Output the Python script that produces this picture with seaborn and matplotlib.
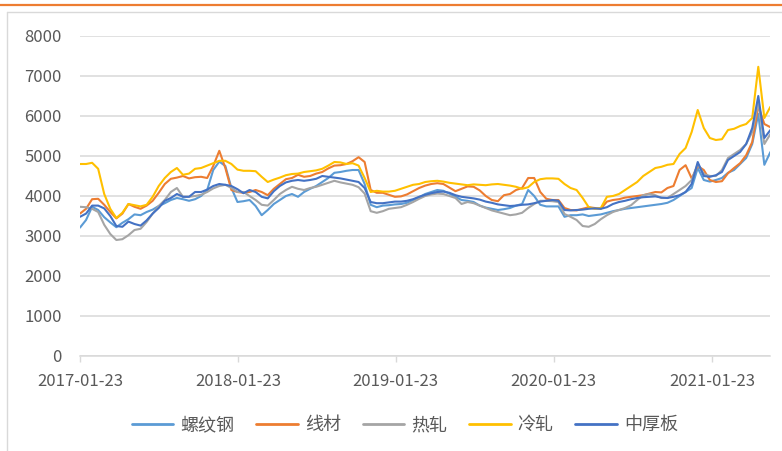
import numpy as np
import pandas as pd
import matplotlib
matplotlib.use('Agg')
import matplotlib.pyplot as plt
import seaborn as sns
from matplotlib.lines import Line2D

# ---------------- data ----------------
START = '2017-01-23'
N_POINTS = 115
STEP = '14D'

series_names = ['螺纹钢', '线材', '热轧', '冷轧', '中厚板']
series_colors = ['#5B9BD5', '#ED7D31', '#A5A5A5', '#FFC000', '#4472C4']

rebar = [3210, 3400, 3730, 3650, 3470, 3340, 3220, 3330, 3420, 3540,
         3520, 3600, 3660, 3750, 3820, 3900, 3950, 3920, 3880, 3920,
         4000, 4150, 4650, 4860, 4750, 4200, 3850, 3870, 3900, 3750,
         3520, 3650, 3800, 3900, 4000, 4050, 3980, 4100, 4180, 4250,
         4350, 4450, 4580, 4600, 4630, 4650, 4650, 4300, 3780, 3720,
         3760, 3770, 3790, 3800, 3830, 3900, 3970, 4050, 4100, 4150,
         4130, 4060, 3980, 3900, 3880, 3850, 3760, 3710, 3680, 3650,
         3670, 3700, 3760, 3800, 4150, 4000, 3780, 3740, 3740, 3740,
         3480, 3520, 3520, 3540, 3500, 3520, 3540, 3580, 3620, 3650,
         3680, 3700, 3720, 3740, 3760, 3780, 3800, 3830, 3900, 4000,
         4100, 4200, 4700, 4400, 4360, 4400, 4450, 4580, 4650, 4800,
         4950, 5300, 6050, 4780, 5100]

wire = [3560, 3680, 3920, 3930, 3780, 3600, 3440, 3560, 3800, 3730,
        3680, 3760, 3880, 4080, 4300, 4430, 4460, 4500, 4440, 4470,
        4480, 4450, 4750, 5130, 4700, 4150, 4100, 4080, 4100, 4150,
        4100, 4020, 4180, 4300, 4420, 4450, 4530, 4480, 4500, 4560,
        4600, 4690, 4760, 4770, 4800, 4870, 4970, 4850, 4150, 4080,
        4080, 4030, 3980, 3990, 4040, 4120, 4200, 4260, 4300, 4320,
        4300, 4210, 4120, 4180, 4240, 4230, 4140, 4000, 3900, 3870,
        4020, 4050, 4150, 4200, 4450, 4450, 4100, 3930, 3900, 3900,
        3700, 3650, 3640, 3680, 3720, 3700, 3680, 3860, 3900, 3920,
        3960, 3980, 4000, 4020, 4060, 4100, 4090, 4200, 4250, 4650,
        4770, 4440, 4750, 4650, 4400, 4350, 4370, 4570, 4700, 4820,
        5020, 5350, 6250, 5800, 5720]

hot_rolled = [3730, 3720, 3680, 3600, 3280, 3050, 2900, 2920, 3020, 3150,
              3180, 3350, 3560, 3750, 3900, 4100, 4200, 3980, 3980, 4000,
              4030, 4100, 4190, 4250, 4280, 4200, 4100, 4100, 4000, 3900,
              3780, 3760, 3900, 4050, 4150, 4230, 4180, 4150, 4200, 4230,
              4280, 4330, 4380, 4340, 4310, 4280, 4220, 4060, 3620, 3580,
              3620, 3680, 3700, 3720, 3780, 3850, 3930, 4000, 4040, 4060,
              4050, 4000, 3950, 3800, 3850, 3820, 3760, 3700, 3640, 3600,
              3560, 3520, 3540, 3580, 3700, 3800, 3880, 3880, 3870, 3850,
              3550, 3480, 3400, 3250, 3230, 3300, 3420, 3520, 3600, 3650,
              3700, 3770, 3900, 4020, 4050, 4020, 3950, 3950, 4050, 4150,
              4250, 4400, 4800, 4550, 4500, 4500, 4650, 4950, 5050, 5150,
              5300, 5600, 6350, 5300, 5550]

cold_rolled = [4800, 4800, 4830, 4680, 4050, 3680, 3450, 3580, 3800, 3770,
               3740, 3780, 3980, 4250, 4450, 4600, 4700, 4530, 4560, 4680,
               4700, 4760, 4820, 4880, 4880, 4800, 4660, 4630, 4630, 4620,
               4480, 4350, 4410, 4460, 4520, 4550, 4560, 4600, 4620, 4640,
               4680, 4760, 4850, 4840, 4800, 4820, 4760, 4450, 4100, 4130,
               4110, 4110, 4130, 4180, 4230, 4280, 4300, 4350, 4370, 4380,
               4360, 4330, 4310, 4290, 4270, 4290, 4280, 4270, 4290, 4300,
               4280, 4260, 4230, 4180, 4220, 4350, 4420, 4440, 4440, 4430,
               4300, 4200, 4150, 3950, 3720, 3680, 3700, 3980, 4000, 4050,
               4150, 4250, 4350, 4500, 4600, 4700, 4730, 4780, 4800, 5050,
               5200, 5600, 6150, 5700, 5450, 5400, 5420, 5650, 5680, 5750,
               5800, 5950, 7230, 5950, 6230]

plate = [3480, 3560, 3760, 3760, 3690, 3500, 3250, 3230, 3360, 3300,
         3260, 3390, 3560, 3700, 3880, 3950, 4050, 3980, 3980, 4100,
         4100, 4160, 4250, 4300, 4280, 4250, 4170, 4070, 4150, 4100,
         3980, 3940, 4120, 4250, 4340, 4380, 4400, 4380, 4400, 4430,
         4500, 4480, 4460, 4440, 4410, 4380, 4350, 4200, 3850, 3820,
         3820, 3840, 3860, 3860, 3880, 3920, 3980, 4030, 4070, 4100,
         4110, 4080, 4020, 3980, 3960, 3940, 3910, 3860, 3830, 3790,
         3770, 3750, 3760, 3780, 3790, 3820, 3860, 3880, 3900, 3880,
         3650, 3640, 3650, 3660, 3680, 3690, 3680, 3720, 3800, 3850,
         3880, 3920, 3950, 3970, 3980, 3990, 3960, 3950, 3980, 4020,
         4100, 4300, 4850, 4500, 4480, 4520, 4600, 4900, 5000, 5100,
         5300, 5700, 6500, 5450, 5650]

x_tick_labels = ['2017-01-23', '2018-01-23', '2019-01-23', '2020-01-23', '2021-01-23']
y_ticks = [0, 1000, 2000, 3000, 4000, 5000, 6000, 7000, 8000]

# ---------------- build table ----------------
dates = pd.date_range(START, periods=N_POINTS, freq=STEP)
all_vals = [rebar, wire, hot_rolled, cold_rolled, plate]
df = pd.concat(
    [pd.DataFrame({'date': dates, 'value': v, 'series': n})
     for n, v in zip(series_names, all_vals)],
    ignore_index=True)

# ---------------- style ----------------
sns.set_theme(style='white')
plt.rcParams['font.family'] = ['Noto Sans CJK SC', 'DejaVu Sans']
TXT = '#595959'
GRID = '#D9D9D9'

W, H = 782, 451
fig = plt.figure(figsize=(W / 100, H / 100), dpi=100)
fig.patch.set_facecolor('white')

ax = fig.add_axes([80 / W, (H - 356) / H, (770.4 - 80) / W, 320 / H])
sns.lineplot(data=df, x='date', y='value', hue='series',
             hue_order=series_names, palette=series_colors,
             linewidth=1.5, estimator=None, legend=False, ax=ax)

ax.set_xlim(dates[0], dates[-1])
ax.set_ylim(0, 8000)
ax.set_yticks(y_ticks)
ax.set_yticklabels([str(t) for t in y_ticks])
ax.set_xticks(pd.to_datetime(x_tick_labels))
ax.set_xticklabels(x_tick_labels)
ax.set_xlabel('')
ax.set_ylabel('')

ax.yaxis.grid(True, color=GRID, linewidth=1.1)
ax.xaxis.grid(False)
ax.set_axisbelow(True)
for s in ['top', 'right', 'left']:
    ax.spines[s].set_visible(False)
ax.spines['bottom'].set_color(GRID)
ax.spines['bottom'].set_linewidth(1.1)

ax.tick_params(axis='x', direction='out', length=4, width=1, color=GRID,
               pad=8, labelsize=12, labelcolor=TXT, bottom=True)
ax.tick_params(axis='y', length=0, pad=13, labelsize=12, labelcolor=TXT)

# legend
handles = [Line2D([], [], color=c, lw=2) for c in series_colors]
fig.legend(handles, series_names, loc='center',
           bbox_to_anchor=(405 / W, 1 - 425 / H), ncol=5, frameon=False,
           fontsize=13, handlelength=2.3, handletextpad=0.4,
           columnspacing=1.2, labelcolor=TXT)

# outer decorations: orange top rule and light chart border
fig.add_artist(Line2D([0, 1], [1 - 5 / H, 1 - 5 / H], transform=fig.transFigure,
                      color='#ED7D31', lw=1.6))
fig.add_artist(Line2D([7 / W, 1], [1 - 12 / H, 1 - 12 / H], transform=fig.transFigure,
                      color=GRID, lw=1.0))
fig.add_artist(Line2D([7 / W, 7 / W], [0, 1 - 12 / H], transform=fig.transFigure,
                      color=GRID, lw=1.0))

fig.savefig('out.png', dpi=100)
